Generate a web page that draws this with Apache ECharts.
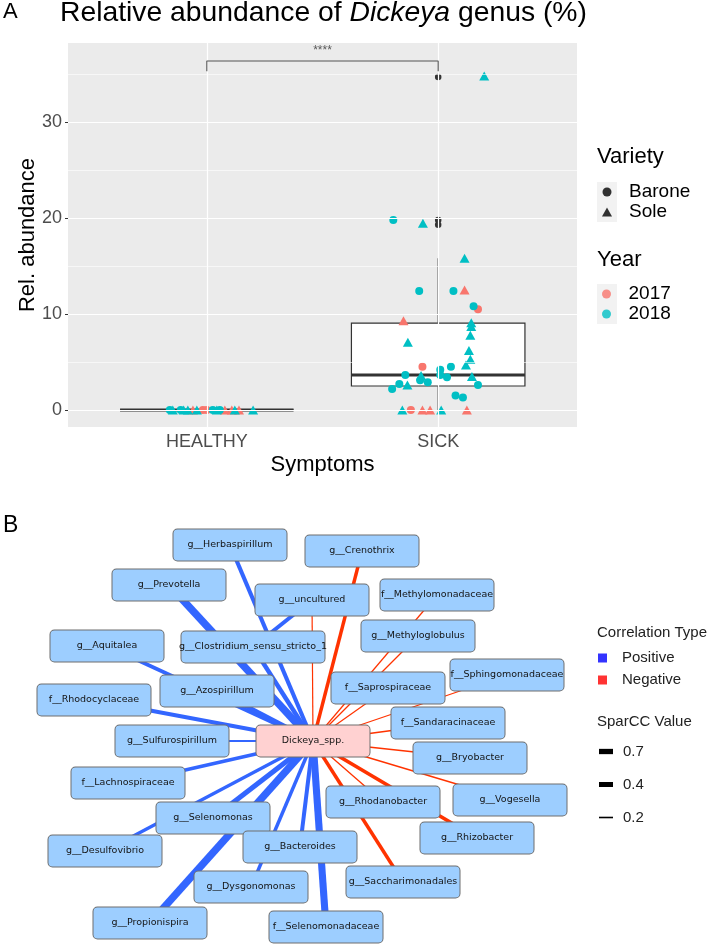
<!DOCTYPE html>
<html><head><meta charset="utf-8">
<script src="https://cdn.jsdelivr.net/npm/echarts@6/dist/echarts.min.js"></script>
<style>html,body{margin:0;padding:0;background:#fff}#c{width:709px;height:947px}</style>
</head><body><div id="c"></div>
<script>
// ---------------- Panel A data ----------------
const symptomCategories = ['HEALTHY', 'SICK'];
const yTickValues = [0, 10, 20, 30];
const yMinorValues = [5, 15, 25, 35];
const varieties = ['Barone', 'Sole'];
const years = ['2017', '2018'];

const healthyJitter = [-0.16, -0.147, -0.113, -0.10, -0.082, -0.06, -0.043, -0.017, 0.0, 0.026, 0.043, 0.056, 0.078, 0.108, 0.121, 0.139, 0.2];
const healthyValue  = [0, 0, 0, 0, 0, 0, 0, 0, 0, 0, 0, 0, 0, 0, 0, 0, 0];
const healthyVariety = ['Barone','Sole','Barone','Sole','Sole','Sole','Sole','Barone','Barone','Barone','Sole','Barone','Sole','Sole','Sole','Sole','Sole'];
const healthyYear    = ['2018','2018','2018','2018','2018','2017','2018','2017','2017','2018','2018','2018','2017','2017','2018','2017','2018'];

const sickJitter = [0.114, -0.082, 0.066, 0.114, 0.153, 0.172, -0.150, 0.143, 0.143, 0.139, -0.131, 0.133, 0.139, 0.120, -0.068, 0.055, 0.009, 0.009, 0.038, -0.142, -0.074, -0.078, -0.045, 0.146, -0.133, -0.168, -0.199, 0.172, 0.075, 0.107, -0.155, -0.118, -0.068, -0.035, 0.013, 0.124, -0.194, -0.066, 0.199];
const sickValue  = [15.8, 12.4, 12.4, 12.5, 10.8, 10.5, 9.3, 9.1, 8.7, 7.8, 7.05, 6.2, 5.3, 4.7, 4.5, 4.5, 4.2, 3.65, 3.4, 3.65, 3.6, 3.1, 2.9, 3.5, 2.6, 2.7, 2.2, 2.6, 1.5, 1.3, 0, 0, 0, 0, 0, 0, 19.8, 19.45, 34.8];
const sickVariety = ['Sole','Barone','Barone','Sole','Barone','Barone','Sole','Sole','Sole','Sole','Sole','Sole','Sole','Sole','Barone','Barone','Barone','Barone','Barone','Barone','Sole','Barone','Barone','Sole','Sole','Barone','Barone','Barone','Barone','Barone','Sole','Barone','Sole','Sole','Sole','Sole','Barone','Sole','Sole'];
const sickYear    = ['2018','2018','2018','2017','2018','2017','2017','2018','2018','2018','2018','2018','2018','2018','2017','2018','2018','2018','2018','2018','2018','2018','2018','2018','2018','2018','2018','2018','2018','2018','2018','2017','2017','2017','2018','2017','2018','2018','2018'];

// box statistics: [lower whisker, Q1, median, Q3, upper whisker]
const healthyBox = [0, 0, 0, 0, 0];
const sickBox = [0, 2.5, 3.65, 9.05, 15.8];
const sickOutliers = [34.7, 19.8, 19.3];

const signifLabel = '****';
const bracketLow = 35.3;
const bracketHigh = 36.35;
const signifLabelValue = 37.4;

// ---------------- Panel B data ----------------
const nodeNames = ['g__Herbaspirillum','g__Crenothrix','g__Prevotella','g__uncultured','f__Methylomonadaceae','g__Methyloglobulus','g__Aquitalea','g__Clostridium_sensu_stricto_1','f__Sphingomonadaceae','f__Saprospiraceae','g__Azospirillum','f__Rhodocyclaceae','f__Sandaracinaceae','g__Sulfurospirillum','Dickeya_spp.','g__Bryobacter','f__Lachnospiraceae','g__Vogesella','g__Rhodanobacter','g__Selenomonas','g__Rhizobacter','g__Bacteroides','g__Desulfovibrio','g__Saccharimonadales','g__Dysgonomonas','g__Propionispira','f__Selenomonadaceae'];
const layoutX = [230, 362, 169, 312, 437, 418, 107, 253, 507, 388, 217, 94, 448, 172, 313, 470, 128, 510, 383, 213, 477, 300, 105, 403, 251, 150, 326];
const layoutY = [545, 551, 585, 600, 595, 636, 646, 647, 675, 688, 691, 700, 723, 741, 741, 758, 783, 800, 802, 818, 838, 847, 851, 882, 887, 923, 927];
const hubNode = 'Dickeya_spp.';

const edgeSource = ['Dickeya_spp.','Dickeya_spp.','Dickeya_spp.','Dickeya_spp.','Dickeya_spp.','Dickeya_spp.','Dickeya_spp.','Dickeya_spp.','Dickeya_spp.','Dickeya_spp.','Dickeya_spp.','Dickeya_spp.','Dickeya_spp.','Dickeya_spp.','Dickeya_spp.','Dickeya_spp.','Dickeya_spp.','Dickeya_spp.','Dickeya_spp.','Dickeya_spp.','Dickeya_spp.','Dickeya_spp.','Dickeya_spp.','Dickeya_spp.','Dickeya_spp.','Dickeya_spp.','g__Clostridium_sensu_stricto_1'];
const edgeTarget = ['g__Herbaspirillum','g__Crenothrix','g__Prevotella','g__uncultured','f__Methylomonadaceae','g__Methyloglobulus','g__Aquitalea','g__Clostridium_sensu_stricto_1','f__Sphingomonadaceae','f__Saprospiraceae','g__Azospirillum','f__Rhodocyclaceae','f__Sandaracinaceae','g__Sulfurospirillum','g__Bryobacter','f__Lachnospiraceae','g__Vogesella','g__Rhodanobacter','g__Selenomonas','g__Rhizobacter','g__Bacteroides','g__Desulfovibrio','g__Saccharimonadales','g__Dysgonomonas','g__Propionispira','f__Selenomonadaceae','g__uncultured'];
const sparccValue = [0.41, -0.36, 0.66, -0.2, -0.2, -0.2, 0.38, 0.43, -0.2, -0.2, 0.45, 0.40, -0.22, 0.24, -0.22, 0.37, -0.21, -0.21, 0.48, -0.38, 0.40, 0.35, -0.36, 0.36, 0.64, 0.62, 0.40];

const correlationTypes = ['Positive', 'Negative'];
const sparccLegendValues = [0.7, 0.4, 0.2];

// ---------------- styles ----------------
const FONT = 'Liberation Sans, Arial, Helvetica, sans-serif';
const yearColor = { '2017': '#F8766D', '2018': '#00BFC4' };
const varietySymbol = { 'Barone': 'circle', 'Sole': 'triangle' };
const varietySize = { 'Barone': 8, 'Sole': [10, 9] };
const posColor = '#3366FF', negColor = '#FF3300';
const sparccLegendBarHeights = [5.3, 5, 1.6];
const CLEAR = 'rgba(0,0,0,0)';
function edgeWidth(v) { return 1.2 + (Math.abs(v) - 0.2) * 14; }

// ---------------- build panel A series ----------------
const series = [];

// grid lines (ggplot style), drawn under everything
series.push({
  type: 'scatter', xAxisIndex: 0, yAxisIndex: 0, data: [], z: 1, silent: true,
  markLine: {
    silent: true, symbol: 'none', label: { show: false }, animation: false,
    data: [].concat(
      yMinorValues.map(v => ({ yAxis: v, lineStyle: { color: '#FFFFFF', width: 0.6, type: 'solid' } })),
      yTickValues.map(v => ({ yAxis: v, lineStyle: { color: '#FFFFFF', width: 1.2, type: 'solid' } })),
      symptomCategories.map((c, i) => ({ xAxis: i + 1, lineStyle: { color: '#FFFFFF', width: 1.2, type: 'solid' } }))
    )
  }
});

// boxplots
series.push({
  type: 'custom', xAxisIndex: 0, yAxisIndex: 0, z: 2, silent: true,
  data: [[1].concat(healthyBox), [2].concat(sickBox)],
  renderItem: function (params, api) {
    const x = api.value(0), lo = api.value(1), q1 = api.value(2), med = api.value(3), q3 = api.value(4), hi = api.value(5);
    const half = 0.375;
    const tl = api.coord([x - half, q3]), br = api.coord([x + half, q1]);
    const ml = api.coord([x - half, med]), mr = api.coord([x + half, med]);
    const pHi = api.coord([x, hi]), pQ3 = api.coord([x, q3]), pQ1 = api.coord([x, q1]), pLo = api.coord([x, lo]);
    const st = { stroke: '#333333', lineWidth: 1.2, fill: null };
    return { type: 'group', children: [
      { type: 'line', shape: { x1: pHi[0], y1: pHi[1], x2: pQ3[0], y2: pQ3[1] }, style: st },
      { type: 'line', shape: { x1: pQ1[0], y1: pQ1[1], x2: pLo[0], y2: pLo[1] }, style: st },
      { type: 'rect', shape: { x: tl[0], y: tl[1], width: br[0] - tl[0], height: br[1] - tl[1] }, style: { stroke: '#333333', lineWidth: 1.2, fill: '#FFFFFF' } },
      { type: 'line', shape: { x1: ml[0], y1: ml[1], x2: mr[0], y2: mr[1] }, style: { stroke: '#333333', lineWidth: 3 } }
    ] };
  }
});

// outliers
series.push({
  type: 'scatter', xAxisIndex: 0, yAxisIndex: 0, z: 3, silent: true,
  symbol: 'circle', symbolSize: 6.5, itemStyle: { color: '#333333', opacity: 1 },
  data: sickOutliers.map(v => [2, v])
});

// jittered points
years.forEach(yr => {
  varieties.forEach(vr => {
    const data = [];
    healthyValue.forEach((v, i) => { if (healthyYear[i] === yr && healthyVariety[i] === vr) data.push([1 + healthyJitter[i], v]); });
    sickValue.forEach((v, i) => { if (sickYear[i] === yr && sickVariety[i] === vr) data.push([2 + sickJitter[i], v]); });
    series.push({
      type: 'scatter', name: yr + ' ' + vr, xAxisIndex: 0, yAxisIndex: 0, z: 4, silent: true,
      symbol: varietySymbol[vr], symbolSize: varietySize[vr],
      itemStyle: { color: yearColor[yr], opacity: 1 }, data: data
    });
  });
});

// significance bracket
series.push({
  type: 'line', xAxisIndex: 0, yAxisIndex: 0, z: 5, silent: true, showSymbol: false, symbol: 'none',
  lineStyle: { color: '#555555', width: 1.1 },
  data: [[1, bracketLow], [1, bracketHigh], [2, bracketHigh], [2, bracketLow]]
});
series.push({
  type: 'scatter', xAxisIndex: 0, yAxisIndex: 0, z: 5, silent: true, symbolSize: 1, itemStyle: { color: CLEAR },
  data: [[1.5, signifLabelValue]],
  label: { show: true, position: 'inside', formatter: signifLabel, fontSize: 12, color: '#333', fontFamily: FONT }
});

// legend-only series
varieties.forEach(vr => series.push({ type: 'scatter', name: vr, xAxisIndex: 0, yAxisIndex: 0, data: [], symbol: varietySymbol[vr], itemStyle: { color: '#000' } }));
years.forEach(yr => series.push({ type: 'scatter', name: yr, xAxisIndex: 0, yAxisIndex: 0, data: [], symbol: 'circle', itemStyle: { color: yearColor[yr] } }));
series.push({ type: 'scatter', name: correlationTypes[0], xAxisIndex: 0, yAxisIndex: 0, data: [], symbol: 'rect', itemStyle: { color: '#0000FF' } });
series.push({ type: 'scatter', name: correlationTypes[1], xAxisIndex: 0, yAxisIndex: 0, data: [], symbol: 'rect', itemStyle: { color: '#FF0000' } });

// ---------------- Panel B network ----------------
const minX = Math.min(...layoutX), maxX = Math.max(...layoutX);
const minY = Math.min(...layoutY), maxY = Math.max(...layoutY);
series.push({
  type: 'graph', layout: 'none', roam: false, silent: true, z: 6,
  left: minX, top: minY, width: maxX - minX, height: maxY - minY,
  edgeSymbol: ['none', 'none'],
  lineStyle: { opacity: 1, curveness: 0, color: negColor, width: 1.2 },
  emphasis: { disabled: true },
  data: nodeNames.map((n, i) => {
    const w = n.length > 25 ? 145 : 115;
    const isHub = n === hubNode;
    return {
      name: n, x: layoutX[i], y: layoutY[i], symbol: 'rect', symbolSize: [w, 33],
      itemStyle: { color: CLEAR, borderWidth: 0 },
      label: {
        show: true, position: 'inside', formatter: n,
        width: w - 2, height: 31, lineHeight: 31, align: 'center', verticalAlign: 'middle',
        backgroundColor: isHub ? '#FFD1D1' : '#9DCEFF', borderColor: '#6E6E6E', borderWidth: 1, borderRadius: 4,
        color: '#141414', fontFamily: 'DejaVu Sans, sans-serif', fontSize: 9.5, overflow: 'none'
      }
    };
  }),
  links: edgeSource.map((s, i) => ({
    source: s, target: edgeTarget[i],
    lineStyle: { width: edgeWidth(sparccValue[i]), color: sparccValue[i] > 0 ? posColor : negColor, opacity: 1 }
  }))
});

// ---------------- option ----------------
const titleStyle = { fontFamily: FONT, fontWeight: 'normal', color: '#000' };
const option = {
  animation: false,
  backgroundColor: '#FFFFFF',
  textStyle: { fontFamily: FONT },
  title: [
    { text: 'A', left: 3, top: 1, padding: 0, textStyle: Object.assign({ fontSize: 22 }, titleStyle) },
    { text: '{n|Relative abundance of }{i|Dickeya}{n| genus (%)}', left: 60, top: -1, padding: 0,
      textStyle: { rich: { n: Object.assign({ fontSize: 28.3 }, titleStyle), i: Object.assign({ fontSize: 28.3, fontStyle: 'italic' }, titleStyle) } } },
    { text: 'Variety', left: 597, top: 146, padding: 0, textStyle: Object.assign({ fontSize: 22 }, titleStyle) },
    { text: 'Year', left: 597, top: 249, padding: 0, textStyle: Object.assign({ fontSize: 22 }, titleStyle) },
    { text: 'B', left: 3, top: 514, padding: 0, textStyle: Object.assign({ fontSize: 23 }, titleStyle) },
    { text: 'Correlation Type', left: 597, top: 625, padding: 0, textStyle: Object.assign({ fontSize: 15 }, titleStyle, { color: '#222' }) },
    { text: 'SparCC Value', left: 597, top: 714, padding: 0, textStyle: Object.assign({ fontSize: 15 }, titleStyle, { color: '#222' }) }
  ],
  legend: [
    { data: varieties.map(v => ({ name: v, icon: varietySymbol[v] })), left: 602, top: 182, orient: 'vertical', padding: 0,
      itemWidth: 10, itemHeight: 9, itemGap: 0, selectedMode: false, symbolKeepAspect: true,
      textStyle: { fontSize: 19, color: '#000', lineHeight: 20, padding: [0, 0, 0, 12], fontFamily: FONT } },
    { data: years.map(y => ({ name: y, icon: 'circle' })), left: 602, top: 284, orient: 'vertical', padding: 0,
      itemWidth: 10, itemHeight: 9, itemGap: 0, selectedMode: false, symbolKeepAspect: true,
      textStyle: { fontSize: 19, color: '#000', lineHeight: 20, padding: [0, 0, 0, 12], fontFamily: FONT } },
    { data: correlationTypes.map(c => ({ name: c, icon: 'rect' })), left: 598, top: 650, orient: 'vertical', padding: 0,
      itemWidth: 9, itemHeight: 9, itemGap: 6, selectedMode: false,
      textStyle: { fontSize: 15, color: '#222', lineHeight: 16, padding: [0, 0, 0, 10], fontFamily: FONT } }
  ],
  grid: [{ left: 68, top: 43, width: 509, height: 384, show: true, backgroundColor: '#EBEBEB', borderWidth: 0, containLabel: false }],
  xAxis: [{
    gridIndex: 0, type: 'value', min: 0.4, max: 2.6,
    axisLine: { show: false }, splitLine: { show: false },
    axisTick: { show: true, customValues: [1, 2], length: 3, lineStyle: { color: '#333', width: 1 } },
    axisLabel: { customValues: [1, 2], formatter: v => symptomCategories[Math.round(v) - 1], color: '#4D4D4D', fontSize: 18, margin: 6, fontFamily: FONT },
    name: 'Symptoms', nameLocation: 'middle', nameGap: 27, nameMoveOverlap: false,
    nameTextStyle: { fontSize: 22, color: '#000', fontFamily: FONT }
  }],
  yAxis: [{
    gridIndex: 0, type: 'value', min: -1.77, max: 38.23,
    axisLine: { show: false }, splitLine: { show: false },
    axisTick: { show: true, customValues: yTickValues, length: 3, lineStyle: { color: '#333', width: 1 } },
    axisLabel: { customValues: yTickValues, color: '#4D4D4D', fontSize: 18, margin: 6, fontFamily: FONT },
    name: 'Rel. abundance', nameLocation: 'middle', nameGap: 29, nameRotate: 90, nameMoveOverlap: false,
    nameTextStyle: { fontSize: 22, color: '#000', fontFamily: FONT }
  }],
  graphic: [].concat(
    [
      { type: 'rect', left: 597, top: 182, shape: { width: 20, height: 40 }, style: { fill: '#F2F2F2' }, z: 0, silent: true },
      { type: 'rect', left: 597, top: 284, shape: { width: 20, height: 40 }, style: { fill: '#F2F2F2' }, z: 0, silent: true }
    ],
    sparccLegendValues.map((v, i) => ({
      type: 'group', left: 599, top: 744 + i * 33, silent: true, children: [
        { type: 'rect', shape: { x: 0, y: 8 - sparccLegendBarHeights[i] / 2, width: 14, height: sparccLegendBarHeights[i] }, style: { fill: '#000' } },
        { type: 'text', style: { x: 24, y: 8, text: v.toFixed(1), fontSize: 15, fill: '#222', fontFamily: FONT, verticalAlign: 'middle' } }
      ]
    }))
  ),
  series: series
};

const chart = echarts.init(document.getElementById('c'), null, { renderer: 'canvas' });
chart.setOption(option);
</script></body></html>
